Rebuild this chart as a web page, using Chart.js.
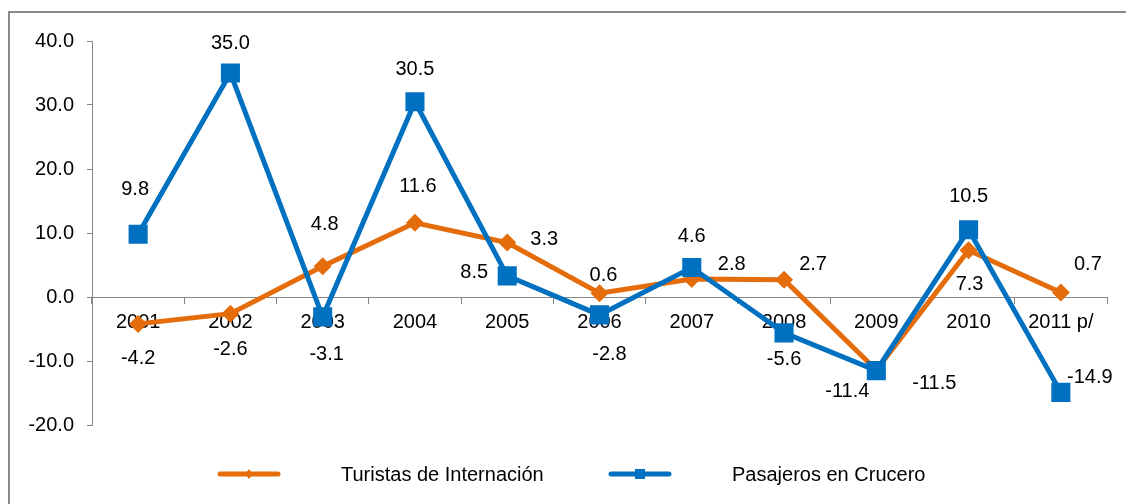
<!DOCTYPE html>
<html>
<head>
<meta charset="utf-8">
<script src="https://cdn.jsdelivr.net/npm/chart.js@4/dist/chart.umd.min.js"></script>
<style>
  html, body { margin: 0; padding: 0; background: #fff; overflow: hidden; }
  #wrap { position: relative; width: 1126px; height: 504px; overflow: hidden; }
  #frame { position: absolute; left: 8px; top: 11px; width: 1200px; height: 600px; border: 2px solid #8a8a8a; }
  #chart { position: absolute; left: 0; top: 0; }
</style>
</head>
<body>
<div id="wrap">
  <div id="frame"></div>
  <canvas id="chart" width="1126" height="504"></canvas>
</div>
<script>
// categories and series
const years = ['2001','2002','2003','2004','2005','2006','2007','2008','2009','2010','2011 p/'];
const turistas = [-4.2, -2.6, 4.8, 11.6, 8.5, 0.6, 2.8, 2.7, -11.4, 7.3, 0.7];
const crucero = [9.8, 35.0, -3.1, 30.5, 3.3, -2.8, 4.6, -5.6, -11.5, 10.5, -14.9];
const yTicks = [-20, -10, 0, 10, 20, 30, 40];

const ORANGE = '#E46C0A';
const BLUE = '#0070C0';
const AXIS = '#868686';
const FONT = '"Liberation Sans", Arial, sans-serif';
const FSIZE = 20;

// where each value label sits relative to its point (dx, dy in px)
const turistasLabelPos = [[0,35],[0,36],[2,-42],[3,-36],[-33,30],[4,-18],[40,-15],[29,-15],[-29,22],[1,34],[27,-28]];
const cruceroLabelPos = [[-3,-45],[0,-30],[4,38],[0,-32],[37,-36],[10,40],[0,-31],[0,27],[58,13],[0,-33],[29,-15]];

// value labels next to the markers
const valueLabels = {
  id: 'valueLabels',
  afterDatasetsDraw(chart) {
    const ctx = chart.ctx;
    ctx.save();
    ctx.font = FSIZE + 'px ' + FONT;
    ctx.fillStyle = '#000';
    ctx.textAlign = 'center';
    ctx.textBaseline = 'middle';
    chart.data.datasets.forEach((ds, i) => {
      const meta = chart.getDatasetMeta(i);
      meta.data.forEach((pt, j) => {
        const off = ds.labelPos[j];
        ctx.fillText(ds.data[j].toFixed(1), pt.x + off[0], pt.y + off[1]);
      });
    });
    ctx.restore();
  }
};

// legend drawn like the Excel one: line with small marker in the middle
const lineLegend = {
  id: 'lineLegend',
  afterDraw(chart) {
    const ctx = chart.ctx;
    const y = 474;
    const items = [
      { ds: chart.data.datasets[1], x: 220 },
      { ds: chart.data.datasets[0], x: 611 }
    ];
    ctx.save();
    items.forEach(it => {
      const ds = it.ds;
      ctx.strokeStyle = ds.borderColor;
      ctx.lineWidth = 5;
      ctx.lineCap = 'round';
      ctx.beginPath();
      ctx.moveTo(it.x, y);
      ctx.lineTo(it.x + 58, y);
      ctx.stroke();
      ctx.fillStyle = ds.borderColor;
      const mx = it.x + 29;
      if (ds.pointStyle === 'rect') {
        ctx.fillRect(mx - 5, y - 5, 10, 10);
      } else {
        ctx.beginPath();
        ctx.moveTo(mx, y - 5);
        ctx.lineTo(mx + 4, y);
        ctx.lineTo(mx, y + 5);
        ctx.lineTo(mx - 4, y);
        ctx.closePath();
        ctx.fill();
      }
      ctx.fillStyle = '#000';
      ctx.font = FSIZE + 'px ' + FONT;
      ctx.textAlign = 'left';
      ctx.textBaseline = 'middle';
      ctx.fillText(ds.label, it.x + 121, y + 1);
    });
    ctx.restore();
  }
};

new Chart(document.getElementById('chart').getContext('2d'), {
  type: 'line',
  data: {
    labels: years,
    datasets: [
      {
        label: 'Pasajeros en Crucero',
        data: crucero,
        labelPos: cruceroLabelPos,
        borderColor: BLUE,
        backgroundColor: BLUE,
        borderWidth: 5,
        pointStyle: 'rect',
        pointRadius: 13.5,
        pointHoverRadius: 13.5,
        pointBorderWidth: 0,
        tension: 0,
        order: 0
      },
      {
        label: 'Turistas de Internación',
        data: turistas,
        labelPos: turistasLabelPos,
        borderColor: ORANGE,
        backgroundColor: ORANGE,
        borderWidth: 5,
        pointStyle: 'rectRot',
        pointRadius: 9,
        pointHoverRadius: 9,
        pointBorderWidth: 0,
        tension: 0,
        order: 1
      }
    ]
  },
  options: {
    responsive: false,
    animation: false,
    devicePixelRatio: 1,
    layout: { padding: { left: 0, right: 19, top: 41, bottom: 79 } },
    plugins: {
      legend: { display: false },
      tooltip: { enabled: false }
    },
    scales: {
      x: {
        type: 'category',
        offset: true,
        position: { y: 0 },
        grid: { offset: true, drawOnChartArea: false, drawTicks: true, tickLength: 6, color: AXIS },
        border: { color: AXIS, width: 1 },
        ticks: { color: '#000', font: { size: FSIZE, family: FONT }, padding: 7, maxRotation: 0, autoSkip: false },
        afterFit(s) { s.height = 0; }
      },
      y: {
        min: yTicks[0],
        max: yTicks[yTicks.length - 1],
        afterBuildTicks(s) { s.ticks = yTicks.map(v => ({ value: v })); },
        grid: { drawOnChartArea: false, drawTicks: true, tickLength: 5, color: AXIS },
        border: { color: AXIS, width: 1 },
        ticks: {
          color: '#000',
          font: { size: FSIZE, family: FONT },
          padding: 13,
          callback: v => v.toFixed(1)
        },
        afterFit(s) { s.width = 92; }
      }
    }
  },
  plugins: [valueLabels, lineLegend]
});
</script>
</body>
</html>
